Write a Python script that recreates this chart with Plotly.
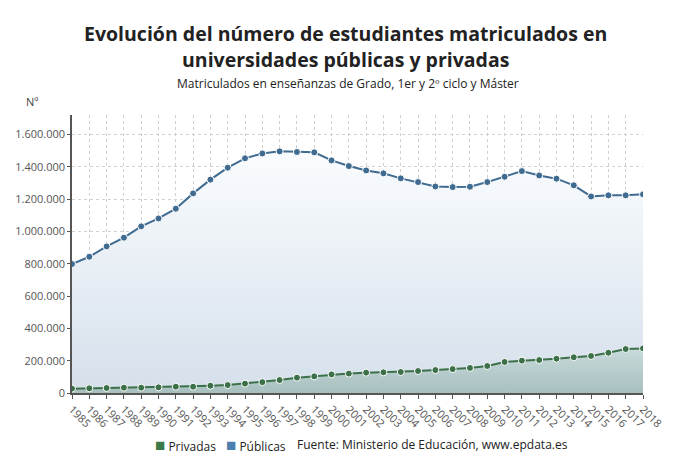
import plotly.graph_objects as go

years = list(range(1985, 2019))
publicas = [798000, 843000, 907000, 961000, 1031000, 1080000, 1140000, 1235000, 1320000, 1394000,
            1452000, 1482000, 1495000, 1491000, 1489000, 1439000, 1404000, 1377000, 1359000, 1328000,
            1305000, 1278000, 1274000, 1276000, 1305000, 1338000, 1373000, 1346000, 1326000, 1285000,
            1216000, 1223000, 1223000, 1229000]
privadas = [27000, 29000, 31000, 33000, 33000, 35000, 39000, 39000, 45000, 49000,
            58000, 67000, 80000, 95000, 103000, 115000, 120000, 126000, 128000, 130000,
            136000, 142000, 148000, 155000, 167000, 192000, 200000, 204000, 212000, 221000,
            229000, 249000, 272000, 276000]

C_PUB = "#3f6b90"
C_PRI = "#3c7049"
FONT = "Open Sans"
L, R, T, B = 72, 47, 115, 72
W, H = 690, 465
PH = H - T - B
PW = W - L - R

def py(ypix):
    return (H - B - ypix) / PH

def px(xpix):
    return (xpix - L) / PW

fig = go.Figure()
fig.add_trace(go.Scatter(
    x=years, y=publicas, mode="lines+markers", showlegend=False, name="Públicas",
    line=dict(color=C_PUB, width=2),
    marker=dict(color=C_PUB, size=7, line=dict(color="white", width=1)),
    fill="tozeroy",
    fillgradient=dict(type="vertical", start=0, stop=1500000,
                      colorscale=[[0, "#d5e0eb"], [1, "#fafcfe"]]),
))
fig.add_trace(go.Scatter(
    x=years, y=privadas, mode="lines+markers", showlegend=False, name="Privadas",
    line=dict(color=C_PRI, width=2),
    marker=dict(color=C_PRI, size=7, line=dict(color="white", width=1)),
    fill="tozeroy",
    fillgradient=dict(type="vertical", start=0, stop=280000,
                      colorscale=[[0, "#a7c0bf"], [1, "#c9dadb"]]),
))

fig.update_layout(
    width=W, height=H,
    margin=dict(l=L, r=R, t=T, b=B, autoexpand=False),
    paper_bgcolor="white", plot_bgcolor="white",
    separators=",.",
    font=dict(family=FONT, color="#444", size=11),
    showlegend=False,
)
title_lines = ["Evolución del número de estudiantes matriculados en",
               "universidades públicas y privadas"]
for line, ypos in zip(title_lines, [33, 60]):
    fig.add_annotation(text=f"<b>{line}</b>", xref="paper", yref="paper",
                       x=px(345), xanchor="center", y=py(ypos), yanchor="middle",
                       showarrow=False, font=dict(family=FONT, size=19.5, color="#222"))
fig.add_annotation(text="Matriculados en enseñanzas de Grado, 1er y 2º ciclo y Máster",
                   xref="paper", yref="paper", x=px(348), xanchor="center",
                   y=py(83), yanchor="middle",
                   showarrow=False, font=dict(family=FONT, size=12, color="#222"))
fig.add_annotation(text="Nº", xref="paper", yref="paper", x=px(24), xanchor="left",
                   y=py(101), yanchor="middle",
                   showarrow=False, font=dict(family=FONT, size=11, color="#444"))
legend_items = [("Privadas", "#3a7a48", 153), ("Públicas", "#4a7fae", 224)]
for name, col, xpos in legend_items:
    fig.add_annotation(text=f"<span style='color:{col};font-size:17px'>■</span> {name}",
                       xref="paper", yref="paper", x=px(xpos), xanchor="left",
                       y=py(444), yanchor="middle",
                       showarrow=False, font=dict(family=FONT, size=12, color="#222"))
fig.add_annotation(text="Fuente: Ministerio de Educación, www.epdata.es",
                   xref="paper", yref="paper", x=px(295), xanchor="left",
                   y=py(444), yanchor="middle",
                   showarrow=False, font=dict(family=FONT, size=12, color="#222"))

fig.update_xaxes(range=[1985, 2018], tickmode="array", tickvals=years,
                 ticktext=[str(y) for y in years], tickangle=45, automargin=False,
                 showgrid=True, gridcolor="#d0d0d0", griddash="dot", gridwidth=1,
                 showline=True, linecolor="#555", linewidth=1.5,
                 ticks="outside", ticklen=4, tickcolor="#555",
                 tickfont=dict(size=11, color="#555"), zeroline=False)
fig.update_yaxes(range=[0, 1720000], tickvals=list(range(0, 1600001, 200000)),
                 tickformat=",d", showgrid=True, gridcolor="#d0d0d0", griddash="dot",
                 showline=True, linecolor="#555", linewidth=1.5, zeroline=False,
                 automargin=False,
                 ticks="outside", ticklen=3, tickcolor="#555",
                 tickfont=dict(size=11, color="#555"))

fig.write_html("out.html")
